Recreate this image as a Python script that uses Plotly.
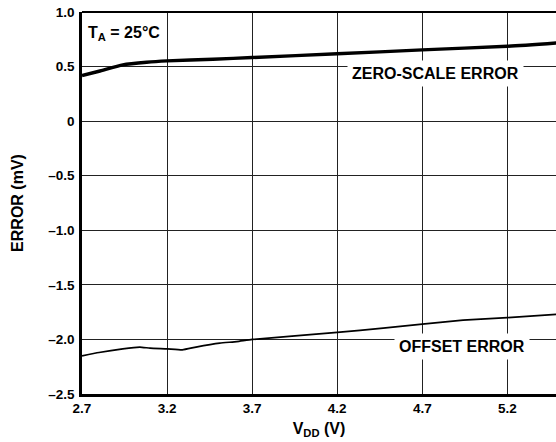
import plotly.graph_objects as go

# Data
zero_v = [2.7, 2.8, 2.94, 3.08, 3.2, 3.47, 3.7, 4.2, 4.7, 5.2, 5.49]
zero_err = [0.418, 0.457, 0.516, 0.540, 0.552, 0.567, 0.583, 0.617, 0.653, 0.686, 0.717]

offset_v = [2.7, 2.8, 2.94, 3.04, 3.1, 3.2, 3.29, 3.37, 3.51, 3.61, 3.7, 4.2, 4.47, 4.7, 4.94, 5.2, 5.49]
offset_err = [-2.15, -2.12, -2.086, -2.07, -2.08, -2.086, -2.095, -2.07, -2.034, -2.02, -2.0,
              -1.936, -1.897, -1.86, -1.823, -1.80, -1.77]

x_ticks = [2.7, 3.2, 3.7, 4.2, 4.7, 5.2]
x_ticklabels = ["2.7", "3.2", "3.7", "4.2", "4.7", "5.2"]
y_ticks = [1.0, 0.5, 0, -0.5, -1.0, -1.5, -2.0, -2.5]
y_ticklabels = ["1.0", "0.5", "0", "–0.5", "–1.0", "–1.5", "–2.0", "–2.5"]

FONT = "Liberation Sans, Arial, sans-serif"

fig = go.Figure()
fig.add_trace(go.Scatter(x=zero_v, y=zero_err, mode="lines",
                         line=dict(color="black", width=3.4, shape="spline", smoothing=0.6),
                         showlegend=False, hoverinfo="skip"))
fig.add_trace(go.Scatter(x=offset_v, y=offset_err, mode="lines",
                         line=dict(color="black", width=1.7, shape="spline", smoothing=0.4),
                         showlegend=False, hoverinfo="skip"))

fig.add_annotation(x=4.78, y=0.435, text="<b>ZERO-SCALE ERROR</b>", showarrow=False,
                   font=dict(family=FONT, size=16, color="black"),
                   bgcolor="white", borderpad=4, xanchor="center", yanchor="middle")
fig.add_annotation(x=4.936, y=-2.067, text="<b>OFFSET ERROR</b>", showarrow=False,
                   font=dict(family=FONT, size=16, color="black"),
                   bgcolor="white", borderpad=4, xanchor="center", yanchor="middle")
fig.add_annotation(x=2.722, y=0.80, text="<b>T<sub>A</sub> = 25°C</b>", showarrow=False,
                   font=dict(family=FONT, size=16, color="black"),
                   bgcolor="white", borderpad=1, xanchor="left", yanchor="middle")

fig.update_xaxes(range=[2.7, 5.486], tickvals=x_ticks, ticktext=x_ticklabels,
                 showgrid=True, gridcolor="#222222", gridwidth=1.2,
                 showline=True, linecolor="black", linewidth=2.5, mirror=False,
                 ticks="", zeroline=False, automargin=False,
                 tickfont=dict(family=FONT, size=13.5, color="black", weight="bold"),
                 title=dict(text="<b>V<sub>DD</sub> (V)</b>", standoff=8,
                            font=dict(family=FONT, size=16, color="black")))
fig.update_yaxes(range=[-2.5, 1.0], tickvals=y_ticks, ticktext=y_ticklabels,
                 showgrid=True, gridcolor="#222222", gridwidth=1.2,
                 showline=True, linecolor="black", linewidth=2.5,
                 ticks="", zeroline=False, ticklabelstandoff=2, automargin=False,
                 tickfont=dict(family=FONT, size=13.5, color="black", weight="bold"),
                 title=dict(text="<b>ERROR (mV)</b>", standoff=21,
                            font=dict(family=FONT, size=16, color="black")))

# top border
fig.add_shape(type="line", xref="paper", yref="paper", x0=0, x1=1, y0=1, y1=1,
              line=dict(color="black", width=2))

fig.update_layout(width=556, height=442,
                  margin=dict(l=82, r=0, t=12, b=48, autoexpand=False),
                  paper_bgcolor="white", plot_bgcolor="white",
                  font=dict(family=FONT, color="black"))

# remove the default 8px page margin so the chart fills the window exactly
fig.write_html("out.html", config={"displayModeBar": False},
               post_script="document.body.style.margin='0';document.body.style.overflow='hidden';")
